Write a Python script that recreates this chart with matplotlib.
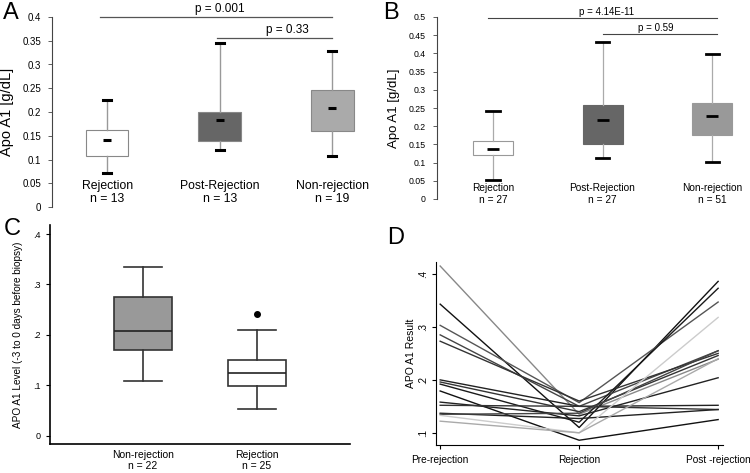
import numpy as np
import matplotlib
matplotlib.use("Agg")
import matplotlib.pyplot as plt

plt.rcParams['font.family'] = ['Liberation Sans', 'DejaVu Sans']

# panel A: boxplot stats
a_names = ["Rejection", "Post-Rejection", "Non-rejection"]
a_n = [13, 13, 19]
a_q1 = [0.107, 0.140, 0.160]
a_med = [0.142, 0.184, 0.208]
a_q3 = [0.163, 0.200, 0.247]
a_lo = [0.072, 0.120, 0.108]
a_hi = [0.225, 0.345, 0.328]
a_fill = ["white", "#666666", "#aaaaaa"]

# panel B
b_names = ["Rejection", "Post-Rejection", "Non-rejection"]
b_n = [27, 27, 51]
b_q1 = [0.120, 0.152, 0.177]
b_med = [0.136, 0.216, 0.227]
b_q3 = [0.158, 0.257, 0.264]
b_lo = [0.052, 0.113, 0.103]
b_hi = [0.243, 0.431, 0.398]
b_fill = ["white", "#666666", "#999999"]

# panel C
c_names = ["Non-rejection", "Rejection"]
c_n = [22, 25]
c_q1 = [0.170, 0.099]
c_med = [0.207, 0.125]
c_q3 = [0.275, 0.151]
c_lo = [0.108, 0.053]
c_hi = [0.334, 0.210]
c_out = [[], [0.242]]
c_fill = ["#999999", "white"]

# panel D: paired values per patient
d_labels = ["Pre-rejection", "Rejection", "Post -rejection"]
d_pre = [0.415, 0.343, 0.303, 0.285, 0.273, 0.200, 0.196, 0.192, 0.179, 0.158, 0.152, 0.137, 0.135, 0.133, 0.122]
d_rej = [0.135, 0.110, 0.157, 0.150, 0.160, 0.150, 0.140, 0.120, 0.086, 0.132, 0.150, 0.127, 0.137, 0.100, 0.100]
d_post = [0.239, 0.386, 0.347, 0.255, 0.250, 0.152, 0.246, 0.373, 0.125, 0.204, 0.144, 0.144, 0.255, 0.318, 0.240]
d_col = ["#888888", "#111111", "#555555", "#444444", "#333333", "#222222", "#333333", "#1a1a1a",
         "#111111", "#222222", "#333333", "#222222", "#444444", "#cccccc", "#aaaaaa"]


def stats(q1, med, q3, lo, hi, fl=None):
    out = []
    for i in range(len(q1)):
        out.append(dict(q1=q1[i], med=med[i], q3=q3[i], whislo=lo[i], whishi=hi[i],
                        fliers=(fl[i] if fl else [])))
    return out


fig = plt.figure(figsize=(7.5, 4.73), dpi=100)
axA = fig.add_axes([52/750, 1-207/473, 313/750, 190/473])
axB = fig.add_axes([437/750, 1-199/473, 308/750, 182/473])
axC = fig.add_axes([50/750, 1-444/473, 300/750, 219/473])
axD = fig.add_axes([436/750, 1-445/473, 287/750, 183/473])


def style_top(ax, ymax, fs_tick):
    for sp in ["top", "right", "bottom"]:
        ax.spines[sp].set_visible(False)
    ax.spines["left"].set_color("#444444")
    ax.set_xticks([])
    ax.set_yticks(np.arange(0, ymax + 0.001, 0.05))
    ax.set_yticklabels([f"{v:g}" for v in np.arange(0, ymax + 0.001, 0.05)])
    ax.tick_params(axis="y", length=3, width=0.6, labelsize=fs_tick, color="#444444", pad=5)


# ---- A ----
bp = axA.bxp(stats(a_q1, a_med, a_q3, a_lo, a_hi), positions=[1, 2, 3], widths=0.38,
             showfliers=False, patch_artist=True, capwidths=0.07,
             boxprops=dict(edgecolor="#888888", linewidth=0.8),
             whiskerprops=dict(color="#999999", linewidth=1.0),
             capprops=dict(color="black", linewidth=2.2),
             medianprops=dict(visible=False))
for p, f in zip(bp["boxes"], a_fill):
    p.set_facecolor(f)
axA.plot([1, 2, 3], a_med, ls="none", marker="_", ms=6, mew=2.2, color="black")
axA.set_xlim(0.511, 3.29)
axA.set_ylim(0, 0.4)
style_top(axA, 0.4, 7)
axA.set_ylabel("Apo A1 [g/dL]", fontsize=10.5, labelpad=6)
for i, (nm, n) in enumerate(zip(a_names, a_n)):
    axA.text(i + 1, 0.031, f"{nm}\nn = {n}", ha="center", va="center", fontsize=8.8, linespacing=1.15)
axA.plot([0.938, 3.0], [0.399, 0.399], color="#555555", lw=0.9, clip_on=False)
axA.text(2.0, 0.404, "p = 0.001", ha="center", va="bottom", fontsize=8.5, clip_on=False)
axA.plot([1.98, 3.0], [0.356, 0.356], color="#555555", lw=0.9, clip_on=False)
axA.text(2.6, 0.36, "p = 0.33", ha="center", va="bottom", fontsize=8.5)

# ---- B ----
bp = axB.bxp(stats(b_q1, b_med, b_q3, b_lo, b_hi), positions=[1, 2, 3], widths=0.365,
             showfliers=False, patch_artist=True, capwidths=0.12,
             boxprops=dict(edgecolor="#999999", linewidth=0.8),
             whiskerprops=dict(color="#aaaaaa", linewidth=0.9),
             capprops=dict(color="black", linewidth=2.0),
             medianprops=dict(visible=False))
for p, f in zip(bp["boxes"], b_fill):
    p.set_facecolor(f)
    if f != "white":
        p.set_edgecolor(f)
axB.plot([1, 2, 3], b_med, ls="none", marker="_", ms=9, mew=2.0, color="black")
axB.set_xlim(0.489, 3.30)
axB.set_ylim(0, 0.5)
style_top(axB, 0.5, 6.3)
axB.set_ylabel("Apo A1 [g/dL]", fontsize=9.5, labelpad=6)
for i, (nm, n) in enumerate(zip(b_names, b_n)):
    axB.text(i + 1, 0.014, f"{nm}\nn = {n}", ha="center", va="center", fontsize=7.3, linespacing=1.15)
axB.plot([0.954, 3.046], [0.497, 0.497], color="#444444", lw=0.8, clip_on=False)
axB.text(2.04, 0.500, "p = 4.14E-11", ha="center", va="bottom", fontsize=7, clip_on=False)
axB.plot([2.0, 3.046], [0.452, 0.452], color="#444444", lw=0.8, clip_on=False)
axB.text(2.49, 0.455, "p = 0.59", ha="center", va="bottom", fontsize=7)

# ---- C ----
bp = axC.bxp(stats(c_q1, c_med, c_q3, c_lo, c_hi, c_out), positions=[1, 2], widths=0.51,
             showfliers=True, patch_artist=True, capwidths=0.33,
             boxprops=dict(edgecolor="#333333", linewidth=1.2),
             whiskerprops=dict(color="#333333", linewidth=1.2),
             capprops=dict(color="#333333", linewidth=1.2),
             medianprops=dict(color="#222222", linewidth=1.2),
             flierprops=dict(marker="o", markerfacecolor="black", markeredgecolor="black", markersize=4))
for p, f in zip(bp["boxes"], c_fill):
    p.set_facecolor(f)
axC.set_xlim(0.184, 2.816)
axC.set_ylim(-0.0165, 0.418)
for sp in ["top", "right"]:
    axC.spines[sp].set_visible(False)
axC.spines["left"].set_linewidth(1.2)
axC.spines["bottom"].set_linewidth(1.2)
axC.set_yticks([0, 0.1, 0.2, 0.3, 0.4])
axC.set_yticklabels(["0", ".1", ".2", ".3", ".4"])
axC.set_xticks([1, 2])
axC.set_xticklabels([f"{nm}\nn = {n}" for nm, n in zip(c_names, c_n)], fontsize=7.5, linespacing=1.2)
axC.tick_params(axis="x", length=0, pad=4)
axC.tick_params(axis="y", length=3, labelsize=6.5, pad=4)
axC.set_ylabel("APO A1 Level (-3 to 0 days before biopsy)", fontsize=7.2, labelpad=7)

# ---- D ----
xs = [0, 1, 2]
for a, b, c, col in zip(d_pre, d_rej, d_post, d_col):
    axD.plot(xs, [a, b, c], color=col, lw=1.0)
axD.set_xlim(-0.03, 2.035)
axD.set_ylim(0.077, 0.4226)
for sp in ["top", "right"]:
    axD.spines[sp].set_visible(False)
axD.spines["left"].set_linewidth(0.8)
axD.spines["bottom"].set_linewidth(0.8)
axD.set_xticks(xs)
axD.set_xticklabels(d_labels, fontsize=7)
axD.set_yticks([0.1, 0.2, 0.3, 0.4])
axD.set_yticklabels([".1", ".2", ".3", ".4"], rotation=90, va="center")
axD.tick_params(axis="both", length=3, labelsize=7, pad=3)
axD.tick_params(axis="x", labelsize=7.3, pad=4)
axD.set_ylabel("APO A1 Result", fontsize=7.5, labelpad=1)

# panel letters
fig.text(3/750, 1-2/473, "A", fontsize=17, va="top", ha="left")
fig.text(383/750, 1-2/473, "B", fontsize=17, va="top", ha="left")
fig.text(4/750, 1-218/473, "C", fontsize=17, va="top", ha="left")
fig.text(387/750, 1-227/473, "D", fontsize=17, va="top", ha="left")

fig.savefig("out.png", dpi=100)
